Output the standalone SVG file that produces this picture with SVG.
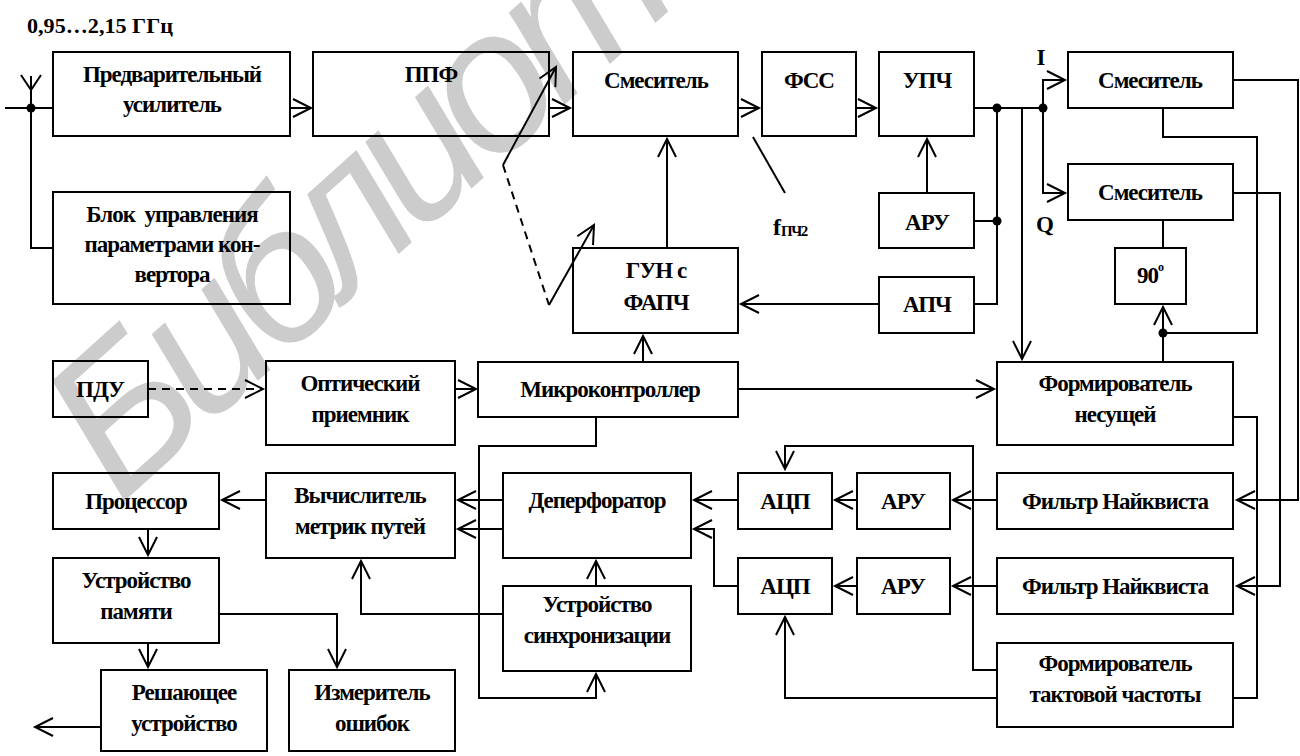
<svg xmlns="http://www.w3.org/2000/svg" width="1300" height="756" viewBox="0 0 1300 756">
  <defs>
    <style>
      .box { fill: none; stroke: #000; stroke-width: 2; }
      .ln { fill: none; stroke: #000; stroke-width: 2; }
      .dash { fill: none; stroke: #000; stroke-width: 2; stroke-dasharray: 8 6; }
      .t { font-family: "Liberation Serif", "Times New Roman", serif; font-weight: bold; font-size: 23px; letter-spacing: -1px; text-anchor: middle; fill: #000; }
      .lbl { font-family: "Liberation Serif", "Times New Roman", serif; font-weight: bold; fill: #000; }
      .wm { font-family: "Liberation Sans", Arial, sans-serif; font-style: italic; font-size: 200px; letter-spacing: -15px; fill: #cccccc; }
    </style>
    <marker id="ah" markerWidth="20" markerHeight="20" refX="18" refY="9" orient="auto" markerUnits="userSpaceOnUse" overflow="visible">
      <path d="M0,0 L18,9 L0,18" fill="none" stroke="#000" stroke-width="2"/>
    </marker>
  </defs>

  <rect width="1300" height="756" fill="#fff"/>

  <!-- background library watermark -->
  <text class="wm" transform="translate(120,505) rotate(-42)">Библиотека</text>

  <text class="lbl" x="27" y="33" font-size="21" textLength="146" lengthAdjust="spacingAndGlyphs">0,95…2,15 ГГц</text>

  <!-- connectors -->
  <g id="connectors">
    <!-- antenna input -->
    <line class="ln" x1="5" y1="108" x2="53" y2="108"/>
    <line class="ln" x1="31" y1="76" x2="31" y2="108"/>
    <polyline class="ln" points="21,75 31,90 41,75"/>
    <polyline class="ln" points="31,108 31,248 53,248"/>
    <circle cx="31" cy="108" r="4.5" fill="#000"/>

    <!-- main RF chain -->
    <line class="ln" x1="290" y1="108" x2="311" y2="108" marker-end="url(#ah)"/>
    <line class="ln" x1="549" y1="108" x2="570" y2="108" marker-end="url(#ah)"/>
    <line class="ln" x1="738" y1="108" x2="759" y2="108" marker-end="url(#ah)"/>
    <line class="ln" x1="856" y1="108" x2="876" y2="108" marker-end="url(#ah)"/>
    <line class="ln" x1="974" y1="108" x2="1043" y2="108"/>
    <circle cx="997" cy="108" r="4.5" fill="#000"/>
    <circle cx="1043" cy="108" r="4.5" fill="#000"/>

    <!-- AGC / AFC taps -->
    <polyline class="ln" points="997,108 997,304 974,304"/>
    <line class="ln" x1="974" y1="221" x2="997" y2="221"/>
    <circle cx="997" cy="221" r="4.5" fill="#000"/>
    <line class="ln" x1="927" y1="193" x2="927" y2="139" marker-end="url(#ah)"/>
    <line class="ln" x1="879" y1="304" x2="741" y2="304" marker-end="url(#ah)"/>
    <line class="ln" x1="667" y1="248" x2="667" y2="139" marker-end="url(#ah)"/>
    <line class="ln" x1="1022" y1="108" x2="1022" y2="359" marker-end="url(#ah)"/>

    <!-- I / Q split -->
    <polyline class="ln" points="1043,108 1043,80 1065,80" marker-end="url(#ah)"/>
    <polyline class="ln" points="1043,108 1043,193 1065,193" marker-end="url(#ah)"/>

    <!-- tuning control -->
    <line class="ln" x1="503" y1="165" x2="556" y2="67" marker-end="url(#ah)"/>
    <line class="dash" x1="503" y1="165" x2="549" y2="305"/>
    <line class="ln" x1="549" y1="305" x2="594" y2="225" marker-end="url(#ah)"/>

    <!-- IF2 marker -->
    <line class="ln" x1="753" y1="137" x2="785" y2="193"/>

    <!-- carrier recovery -->
    <polyline class="ln" points="1163,108 1163,137 1257,137 1257,333 1163,333"/>
    <line class="ln" x1="1163" y1="220" x2="1163" y2="248"/>
    <line class="ln" x1="1163" y1="362" x2="1163" y2="307" marker-end="url(#ah)"/>
    <circle cx="1163" cy="333" r="4.5" fill="#000"/>
    <polyline class="ln" points="1233,417 1257,417 1257,698 1233,698"/>

    <!-- mixer outputs to Nyquist filters -->
    <polyline class="ln" points="1233,80 1298,80 1298,500 1237,500" marker-end="url(#ah)"/>
    <polyline class="ln" points="1233,193 1280,193 1280,586 1237,586" marker-end="url(#ah)"/>

    <!-- remote control / MCU -->
    <line class="dash" x1="148" y1="389" x2="263" y2="389" marker-end="url(#ah)"/>
    <line class="ln" x1="455" y1="389" x2="476" y2="389" marker-end="url(#ah)"/>
    <line class="ln" x1="643" y1="362" x2="643" y2="336" marker-end="url(#ah)"/>
    <line class="ln" x1="738" y1="389" x2="994" y2="389" marker-end="url(#ah)"/>
    <polyline class="ln" points="596,417 596,446 479,446 479,698 596,698 596,674" marker-end="url(#ah)"/>

    <!-- baseband chain -->
    <line class="ln" x1="997" y1="500" x2="953" y2="500" marker-end="url(#ah)"/>
    <line class="ln" x1="997" y1="586" x2="953" y2="586" marker-end="url(#ah)"/>
    <line class="ln" x1="857" y1="500" x2="835" y2="500" marker-end="url(#ah)"/>
    <line class="ln" x1="857" y1="586" x2="835" y2="586" marker-end="url(#ah)"/>
    <line class="ln" x1="738" y1="500" x2="694" y2="500" marker-end="url(#ah)"/>
    <polyline class="ln" points="738,586 714,586 714,529 694,529" marker-end="url(#ah)"/>
    <line class="ln" x1="503" y1="500" x2="458" y2="500" marker-end="url(#ah)"/>
    <line class="ln" x1="503" y1="529" x2="458" y2="529" marker-end="url(#ah)"/>
    <line class="ln" x1="266" y1="500" x2="222" y2="500" marker-end="url(#ah)"/>

    <!-- clock distribution -->
    <polyline class="ln" points="997,670 973,670 973,446 785,446 785,469" marker-end="url(#ah)"/>
    <polyline class="ln" points="997,698 785,698 785,617" marker-end="url(#ah)"/>

    <!-- synchronisation -->
    <line class="ln" x1="596" y1="586" x2="596" y2="561" marker-end="url(#ah)"/>
    <polyline class="ln" points="503,614 361,614 361,561" marker-end="url(#ah)"/>

    <!-- decoder back end -->
    <line class="ln" x1="148" y1="529" x2="148" y2="555" marker-end="url(#ah)"/>
    <line class="ln" x1="148" y1="643" x2="148" y2="667" marker-end="url(#ah)"/>
    <polyline class="ln" points="219,614 337,614 337,667" marker-end="url(#ah)"/>
    <line class="ln" x1="101" y1="727" x2="35" y2="727" marker-end="url(#ah)"/>
  </g>

  <!-- loose labels -->
  <text class="lbl" x="1041" y="65" font-size="23" text-anchor="middle">I</text>
  <text class="lbl" x="1045" y="232" font-size="23" text-anchor="middle">Q</text>
  <text class="lbl" x="773" y="235" font-size="24">f<tspan font-size="15" letter-spacing="-1.5" dy="1">ПЧ2</tspan></text>

  <!-- blocks -->
  <g id="preamp"><rect class="box" x="53" y="52" width="237" height="84"/><text class="t" x="172" y="82">Предварительный</text><text class="t" x="172" y="112">усилитель</text></g>
  <g id="bpf"><rect class="box" x="313" y="52" width="236" height="84"/><text class="t" x="431" y="82">ППФ</text></g>
  <g id="mixer1"><rect class="box" x="573" y="52" width="165" height="84"/><text class="t" x="656" y="88">Смеситель</text></g>
  <g id="saw"><rect class="box" x="762" y="52" width="94" height="84"/><text class="t" x="809" y="88">ФСС</text></g>
  <g id="ifamp"><rect class="box" x="879" y="52" width="95" height="84"/><text class="t" x="927" y="88">УПЧ</text></g>
  <g id="ctrl"><rect class="box" x="53" y="192" width="237" height="112"/><text class="t" x="172" y="222" xml:space="preserve">Блок  управления</text><text class="t" x="172" y="252">параметрами кон-</text><text class="t" x="172" y="282">вертора</text></g>
  <g id="agc-if"><rect class="box" x="879" y="193" width="95" height="55"/><text class="t" x="927" y="230">АРУ</text></g>
  <g id="afc"><rect class="box" x="879" y="277" width="95" height="56"/><text class="t" x="927" y="312">АПЧ</text></g>
  <g id="vco"><rect class="box" x="573" y="248" width="165" height="85"/><text class="t" x="656" y="278">ГУН с</text><text class="t" x="656" y="310">ФАПЧ</text></g>
  <g id="mixer-i"><rect class="box" x="1068" y="52" width="165" height="56"/><text class="t" x="1150" y="88">Смеситель</text></g>
  <g id="mixer-q"><rect class="box" x="1068" y="164" width="165" height="56"/><text class="t" x="1150" y="200">Смеситель</text></g>
  <g id="shift90"><rect class="box" x="1115" y="248" width="71" height="56"/><text class="t" x="1150" y="283">90<tspan font-size="12" dy="-12">o</tspan></text></g>
  <g id="remote"><rect class="box" x="53" y="361" width="95" height="56"/><text class="t" x="100" y="397">ПДУ</text></g>
  <g id="ir-rx"><rect class="box" x="266" y="361" width="189" height="84"/><text class="t" x="360" y="391">Оптический</text><text class="t" x="360" y="422">приемник</text></g>
  <g id="mcu"><rect class="box" x="478" y="362" width="260" height="55"/><text class="t" x="610" y="397">Микроконтроллер</text></g>
  <g id="carrier"><rect class="box" x="997" y="362" width="236" height="83"/><text class="t" x="1115" y="391">Формирователь</text><text class="t" x="1115" y="422">несущей</text></g>
  <g id="cpu"><rect class="box" x="53" y="473" width="166" height="56"/><text class="t" x="136" y="509">Процессор</text></g>
  <g id="metric"><rect class="box" x="266" y="473" width="189" height="85"/><text class="t" x="360" y="503">Вычислитель</text><text class="t" x="360" y="534">метрик путей</text></g>
  <g id="depunct"><rect class="box" x="503" y="473" width="188" height="85"/><text class="t" x="597" y="508">Деперфоратор</text></g>
  <g id="adc-i"><rect class="box" x="738" y="473" width="94" height="56"/><text class="t" x="785" y="509">АЦП</text></g>
  <g id="adc-q"><rect class="box" x="738" y="558" width="94" height="56"/><text class="t" x="785" y="594">АЦП</text></g>
  <g id="agc-i"><rect class="box" x="857" y="473" width="93" height="56"/><text class="t" x="903" y="509">АРУ</text></g>
  <g id="agc-q"><rect class="box" x="857" y="558" width="93" height="56"/><text class="t" x="903" y="594">АРУ</text></g>
  <g id="nyq-i"><rect class="box" x="997" y="473" width="236" height="56"/><text class="t" x="1115" y="509">Фильтр Найквиста</text></g>
  <g id="nyq-q"><rect class="box" x="997" y="558" width="236" height="56"/><text class="t" x="1115" y="594">Фильтр Найквиста</text></g>
  <g id="clock"><rect class="box" x="997" y="643" width="236" height="84"/><text class="t" x="1115" y="671">Формирователь</text><text class="t" x="1115" y="702">тактовой частоты</text></g>
  <g id="memory"><rect class="box" x="53" y="558" width="166" height="85"/><text class="t" x="136" y="588">Устройство</text><text class="t" x="136" y="619">памяти</text></g>
  <g id="sync"><rect class="box" x="503" y="586" width="188" height="85"/><text class="t" x="597" y="612">Устройство</text><text class="t" x="597" y="643">синхронизации</text></g>
  <g id="decision"><rect class="box" x="101" y="670" width="166" height="81"/><text class="t" x="184" y="700">Решающее</text><text class="t" x="184" y="731">устройство</text></g>
  <g id="errmeter"><rect class="box" x="289" y="670" width="166" height="81"/><text class="t" x="372" y="700">Измеритель</text><text class="t" x="372" y="731">ошибок</text></g>
</svg>
